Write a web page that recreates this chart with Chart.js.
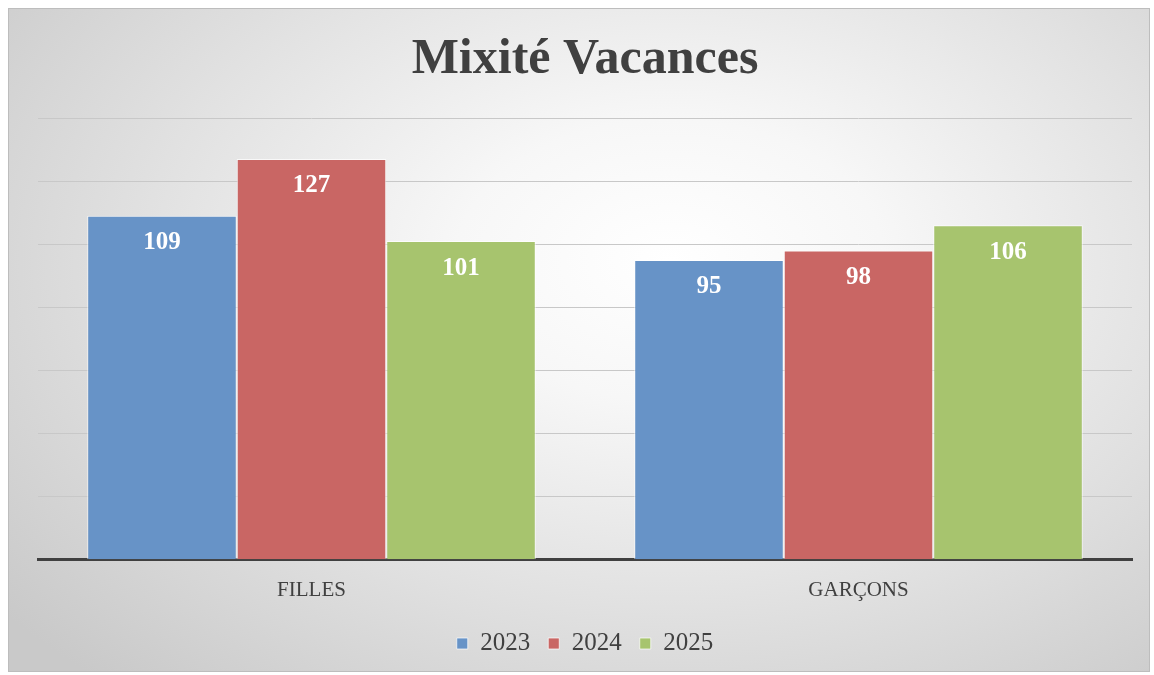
<!DOCTYPE html>
<html>
<head>
<meta charset="utf-8">
<script src="https://cdn.jsdelivr.net/npm/chart.js@4/dist/chart.umd.min.js"></script>
<style>
  body { margin: 0; background: #fff; }
  #frame {
    position: absolute; left: 8px; top: 8px; width: 1142px; height: 664px;
    border: 1px solid #bdbdbd; box-sizing: border-box;
    background: radial-gradient(ellipse 75% 85% at 58% 38%, #ffffff 0%, #f7f7f7 25%, #e2e2e2 60%, #c9c9c9 100%);
  }
</style>
</head>
<body>
<div id="frame"><canvas id="chart" width="1140" height="662"></canvas></div>
<script>
////////////
//// Data

let CATEGORIES = ['FILLES', 'GARÇONS'];
let SERIES = ['2023', '2024', '2025'];
let VALUES_2023 = [109, 95];
let VALUES_2024 = [127, 98];
let VALUES_2025 = [101, 106];

let COLORS = ['#6793c7', '#c96664', '#a7c46e'];
let TEXT = '#404040';

////////////
//// Value labels plugin

let valueLabels = {
	id: 'valueLabels',
	afterDatasetsDraw(chart) {
		let ctx = chart.ctx;
		ctx.save();
		ctx.fillStyle = '#ffffff';
		ctx.font = 'bold 25px "Liberation Serif"';
		ctx.textAlign = 'center';
		ctx.textBaseline = 'middle';
		chart.data.datasets.forEach((ds, i) => {
			chart.getDatasetMeta(i).data.forEach((bar, j) => {
				ctx.fillText(ds.data[j], bar.x, bar.y + 27);
			});
		});
		ctx.restore();
	}
};

////////////
//// Chart

let allValues = [VALUES_2023, VALUES_2024, VALUES_2025];
let datasets = [];
for (let i = 0; i < SERIES.length; ++i) {
	datasets.push({
		label: SERIES[i],
		data: allValues[i],
		backgroundColor: COLORS[i],
		borderColor: 'rgba(255,255,255,0.7)',
		borderWidth: 1,
		categoryPercentage: 0.82,
		barPercentage: 1.0
	});
}

var ctx = document.getElementById('chart').getContext('2d');
new Chart(ctx, {
	type: 'bar',
	data: { labels: CATEGORIES, datasets: datasets },
	plugins: [valueLabels],
	options: {
		responsive: false,
		animation: false,
		layout: { padding: { left: 29, right: 17, top: 21, bottom: 5 } },
		plugins: {
			title: {
				display: true,
				text: 'Mixité Vacances',
				color: TEXT,
				font: { family: '"Liberation Serif"', size: 50, weight: 'bold' },
				padding: { top: 0, bottom: 28 }
			},
			legend: {
				position: 'bottom',
				labels: {
					color: TEXT,
					font: { family: '"Liberation Serif"', size: 25 },
					boxWidth: 11, boxHeight: 11,
					padding: 18
				}
			},
			tooltip: { enabled: false }
		},
		scales: {
			x: {
				grid: { display: false },
				border: { color: '#404040', width: 3 },
				ticks: {
					color: TEXT,
					font: { family: '"Liberation Serif"', size: 21 },
					padding: 10
				}
			},
			y: {
				min: 0, max: 140,
				ticks: { display: false, stepSize: 20 },
				grid: { color: '#c8c8c8', lineWidth: 1, drawTicks: false },
				border: { display: false }
			}
		}
	}
});
</script>
</body>
</html>
